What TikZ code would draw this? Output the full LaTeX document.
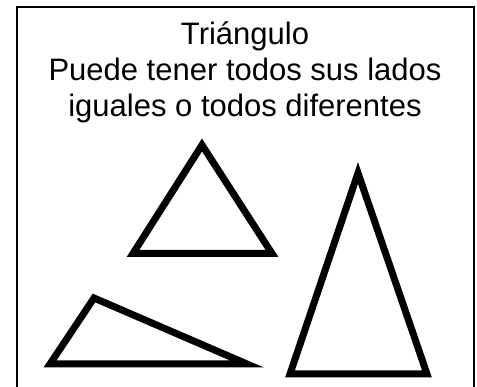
\documentclass[tikz,border=0pt]{standalone}
\usepackage{fontspec}
\setmainfont{Liberation Sans}
\tikzset{
  textline/.style={anchor=base, font=\fontsize{31}{36}\selectfont, inner sep=0pt},
  trioutline/.style={draw=black, line width=7pt, line join=miter}
}
\begin{document}
\begin{tikzpicture}[x=1pt, y=-1pt]
      \useasboundingbox (0,0) rectangle (477,387);
      % frame, open at the bottom
      \draw[line width=2pt] (17,387) -- (17,7.5) -- (474,7.5) -- (474,387);
      % heading
      \node[textline] (title) at (245,45) {Triángulo};
      \node[textline] (lineA) at (245,81) {Puede tener todos sus lados};
      \node[textline] (lineB) at (245,117) {iguales o todos diferentes};
      % equilateral
      \draw[trioutline] (133,253.5) -- (202,145) -- (272,253.5) -- cycle;
      % tall one
      \draw[trioutline] (290,374) -- (358,173) -- (427,374) -- cycle;
      % obtuse one
      \draw[trioutline] (50,364) -- (94,298) -- (247,364) -- cycle;
    \end{tikzpicture}
\end{document}
